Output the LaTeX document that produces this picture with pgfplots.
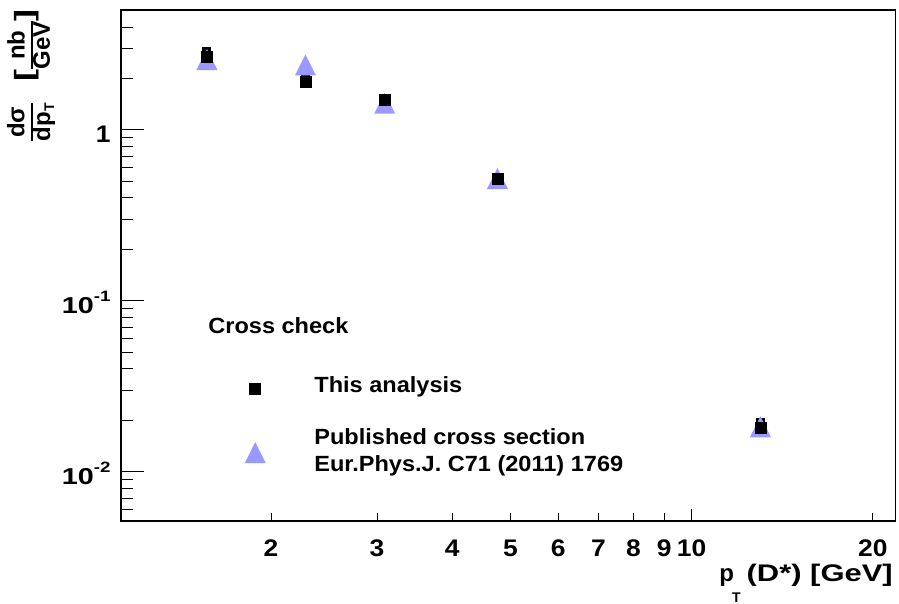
\documentclass[border=0pt]{standalone}
\usepackage{fontspec}
\setmainfont{Liberation Sans}
\newfontfamily\titlefont[FakeStretch=1.29]{Liberation Sans}
\newfontfamily\legfont[FakeStretch=1.07]{Liberation Sans}
\newfontfamily\tickfont[FakeStretch=1.1]{Liberation Sans}
\newfontfamily\expfont[FakeStretch=1.25]{Liberation Sans}
\usepackage{graphicx}
\usepackage{pgfplots}
\usepackage{pgfplotstable}
\pgfplotsset{compat=1.18}
\definecolor{tricol}{RGB}{153,153,255}
\pgfdeclareplotmark{rtri}{%
  \pgfpathmoveto{\pgfqpoint{-\pgfplotmarksize}{-\pgfplotmarksize}}%
  \pgfpathlineto{\pgfqpoint{\pgfplotmarksize}{-\pgfplotmarksize}}%
  \pgfpathlineto{\pgfqpoint{0pt}{\pgfplotmarksize}}%
  \pgfpathclose\pgfusepathqfill}
\newcommand\rfrac[2]{{\setlength\arrayrulewidth{1.8pt}\renewcommand\arraystretch{0.85}%
  \begin{tabular}[c]{@{}c@{}}#1\\\hline #2\end{tabular}}}

\pgfplotstableread{
x y ep em
1.565 2.666 0.40 0.36
2.281 1.927 0.17 0.16
3.089 1.504 0.04 0.04
4.756 0.5216 0.02 0.02
13.01 0.01813 0.0025 0.0022
}\thisanalysis

\pgfplotstableread{
x y
1.565 2.58
2.281 2.40
3.089 1.433
4.756 0.519
13.01 0.01833
}\published

\begin{document}
\begin{tikzpicture}
\useasboundingbox (0pt,0pt) rectangle (899pt,604pt);
\begin{axis}[
  at={(120.7pt,83.3pt)}, anchor=south west,
  scale only axis, width=774.6pt, height=510.7pt,
  xmode=log, ymode=log,
  xmin=1.125, xmax=21.8, ymin=0.00517, ymax=5.03,
  axis line style={line width=1.6pt},
  tick style={black, line width=1pt},
  tick align=inside, tick pos=left,
  major tick length=23pt, minor tick length=12pt,
  xtick={100}, minor xtick={10},
  extra x ticks={2,3,4,5,6,7,8,9,10,20},
  extra x tick labels={2,3,4,5,6,7,8,9,10,20},
  extra x tick style={major tick length=8pt},
  ytick={0.01,0.1,1},
  yticklabels={{\expfont\fontsize{23}{23}\selectfont\bfseries 10\raisebox{12pt}{\fontsize{15}{15}\selectfont -2}},{\expfont\fontsize{23}{23}\selectfont\bfseries 10\raisebox{12pt}{\fontsize{15}{15}\selectfont -1}},1},
  minor ytick={0.006,0.007,0.008,0.009,0.02,0.03,0.04,0.05,0.06,0.07,0.08,0.09,0.2,0.3,0.4,0.5,0.6,0.7,0.8,0.9,2,3,4},
  xticklabel style={anchor=base, inner sep=0pt, yshift=-36pt, font=\tickfont\fontsize{24}{24}\selectfont\bfseries},
  yticklabel style={anchor=base east, inner sep=0pt, xshift=-10pt, yshift=-12.3pt, font=\tickfont\fontsize{24}{24}\selectfont\bfseries},
  legend style={at={(0.14498,0.39749)}, anchor=north west, draw=none, fill=none,
    inner sep=0pt, outer sep=0pt, row sep=0pt, column sep=37pt,
    font=\legfont\fontsize{22}{26.7}\selectfont\bfseries, nodes={inner sep=0pt, text depth=}},
  legend cell align=left,
  legend image code/.code={\path (-22pt,0pt) (22pt,0pt); \draw[#1] plot coordinates {(0pt,0pt)};},
]
\addlegendimage{empty legend}
\addlegendentry{\hspace*{-106pt}Cross check\rule[-17.7pt]{0pt}{17.7pt}}
\addplot[only marks, mark=rtri, mark size=10.5pt, color=tricol, forget plot] table[x=x, y=y] {\published};
\addplot[only marks, mark=square*, mark size=5.5pt, black,
  error bars/.cd, y dir=both, y explicit, error mark=none,
  error bar style={line width=9pt, black}]
  table[x=x, y=y, y error plus=ep, y error minus=em] {\thisanalysis};
\addlegendentry{This analysis\rule[-33.3pt]{0pt}{74.6pt}}
\addlegendimage{only marks, mark=rtri, mark size=10.5pt, color=tricol}
\addlegendentry{\begin{tabular}{@{}l@{}}Published cross section\\Eur.Phys.J. C71 (2011) 1769\end{tabular}}
\end{axis}
\node[rotate=90, anchor=south east, inner sep=0pt, font=\fontsize{24}{26}\selectfont\bfseries] at (57pt,595pt)
  {\rfrac{dσ}{dp\raisebox{-4pt}{\fontsize{14}{14}\selectfont T}}\hspace{22pt}\raisebox{5pt}{\scalebox{1.5}[1.1]{[}}\rfrac{nb}{GeV}\raisebox{5pt}{\scalebox{1.5}[1.1]{]}}};
\node[anchor=base east, inner sep=0pt, font=\fontsize{24}{24}\selectfont\bfseries] at (893pt,22.3pt)
  {p\hspace{-2pt}\raisebox{-20.5pt}{\fontsize{14}{14}\selectfont T}\hspace{6pt}{\titlefont\bfseries (D*) [GeV]}};
\end{tikzpicture}
\end{document}
